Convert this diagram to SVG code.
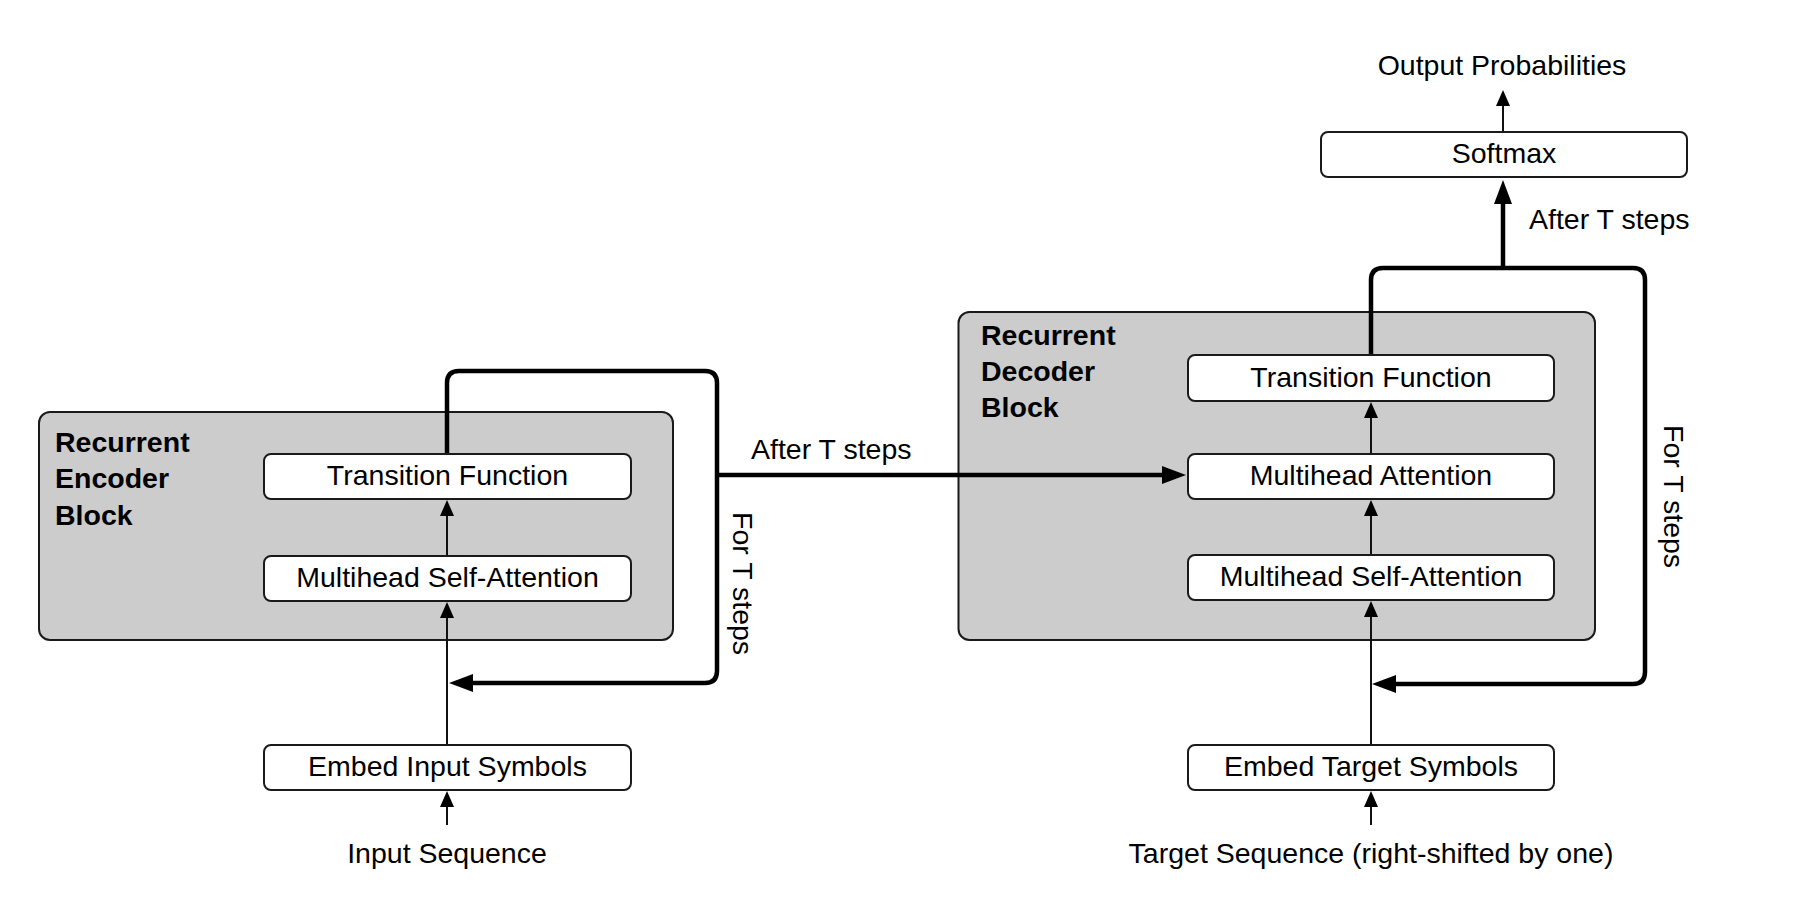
<svg xmlns="http://www.w3.org/2000/svg" width="1800" height="912" viewBox="0 0 1800 912">
<defs>
<style>
text{font-family:"Liberation Sans",Arial,Helvetica,sans-serif;font-size:28.5px;fill:#000}
.b{font-weight:bold}
.c{text-anchor:middle}
.blk{fill:#cccccc;stroke:#1a1a1a;stroke-width:2}
.box{fill:#fff;stroke:#1a1a1a;stroke-width:2}
.thin{fill:none;stroke:#111;stroke-width:2}
.thick{fill:none;stroke:#000;stroke-width:4.5;stroke-linejoin:round}
</style>
<marker id="ah" markerUnits="userSpaceOnUse" markerWidth="16" markerHeight="14" refX="0" refY="7" orient="auto" overflow="visible">
<path d="M0,0 L16,7 L0,14 z" fill="#000"/>
</marker>
<marker id="ahT" markerUnits="userSpaceOnUse" markerWidth="24" markerHeight="18" refX="0" refY="9" orient="auto" overflow="visible">
<path d="M0,0 L24,9 L0,18 z" fill="#000"/>
</marker>
</defs>
<rect width="1800" height="912" fill="#fff"/>

<g id="encoder-block">
<rect class="blk" x="39" y="412" width="634" height="228" rx="11"/>
<text class="b" x="55" y="452">Recurrent</text>
<text class="b" x="55" y="488">Encoder</text>
<text class="b" x="55" y="525">Block</text>
</g>
<g id="decoder-block">
<rect class="blk" x="958.5" y="312" width="636.5" height="328" rx="11"/>
<text class="b" x="981" y="345">Recurrent</text>
<text class="b" x="981" y="381">Decoder</text>
<text class="b" x="981" y="417">Block</text>
</g>

<g id="connectors">
<path class="thin" d="M447 825 V807" marker-end="url(#ah)"/>
<path class="thin" d="M447 745 V618" marker-end="url(#ah)"/>
<path class="thin" d="M447 556 V516" marker-end="url(#ah)"/>
<path class="thick" d="M447 454 V383 Q447 371 459 371 H705 Q717 371 717 383 V671 Q717 683 705 683 H473" marker-end="url(#ahT)"/>
<path class="thick" d="M717 475 H1162" marker-end="url(#ahT)"/>
<path class="thin" d="M1371 825 V807" marker-end="url(#ah)"/>
<path class="thin" d="M1371 745 V617" marker-end="url(#ah)"/>
<path class="thin" d="M1371 555 V516" marker-end="url(#ah)"/>
<path class="thin" d="M1371 454 V418" marker-end="url(#ah)"/>
<path class="thick" d="M1371 355 V280 Q1371 268 1383 268 H1633 Q1645 268 1645 280 V672 Q1645 684 1633 684 H1396" marker-end="url(#ahT)"/>
<path class="thick" d="M1503 268 V204" marker-end="url(#ahT)"/>
<path class="thin" d="M1503 132 V106" marker-end="url(#ah)"/>
<text x="751" y="459">After T steps</text>
<text x="1529" y="229">After T steps</text>
<text transform="translate(733 512) rotate(90)">For T steps</text>
<text transform="translate(1664 425) rotate(90)">For T steps</text>
</g>

<g id="enc-transition">
<rect class="box" x="264" y="454" width="367" height="45" rx="7"/>
<text class="c" x="447.5" y="485">Transition Function</text>
</g>
<g id="enc-self-attention">
<rect class="box" x="264" y="556" width="367" height="45" rx="7"/>
<text class="c" x="447.5" y="587">Multihead Self-Attention</text>
</g>
<g id="enc-embed">
<rect class="box" x="264" y="745" width="367" height="45" rx="7"/>
<text class="c" x="447.5" y="776">Embed Input Symbols</text>
</g>
<g id="input-sequence">
<text class="c" x="447" y="863">Input Sequence</text>
</g>

<g id="dec-transition">
<rect class="box" x="1188" y="355" width="366" height="46" rx="7"/>
<text class="c" x="1371" y="387">Transition Function</text>
</g>
<g id="dec-attention">
<rect class="box" x="1188" y="454" width="366" height="45" rx="7"/>
<text class="c" x="1371" y="485">Multihead Attention</text>
</g>
<g id="dec-self-attention">
<rect class="box" x="1188" y="555" width="366" height="45" rx="7"/>
<text class="c" x="1371" y="586">Multihead Self-Attention</text>
</g>
<g id="dec-embed">
<rect class="box" x="1188" y="745" width="366" height="45" rx="7"/>
<text class="c" x="1371" y="776">Embed Target Symbols</text>
</g>
<g id="target-sequence">
<text class="c" x="1371" y="863">Target Sequence (right-shifted by one)</text>
</g>

<g id="softmax">
<rect class="box" x="1321" y="132" width="366" height="45" rx="7"/>
<text class="c" x="1504" y="163">Softmax</text>
</g>
<g id="output-probabilities">
<text class="c" x="1502" y="75">Output Probabilities</text>
</g>
</svg>
